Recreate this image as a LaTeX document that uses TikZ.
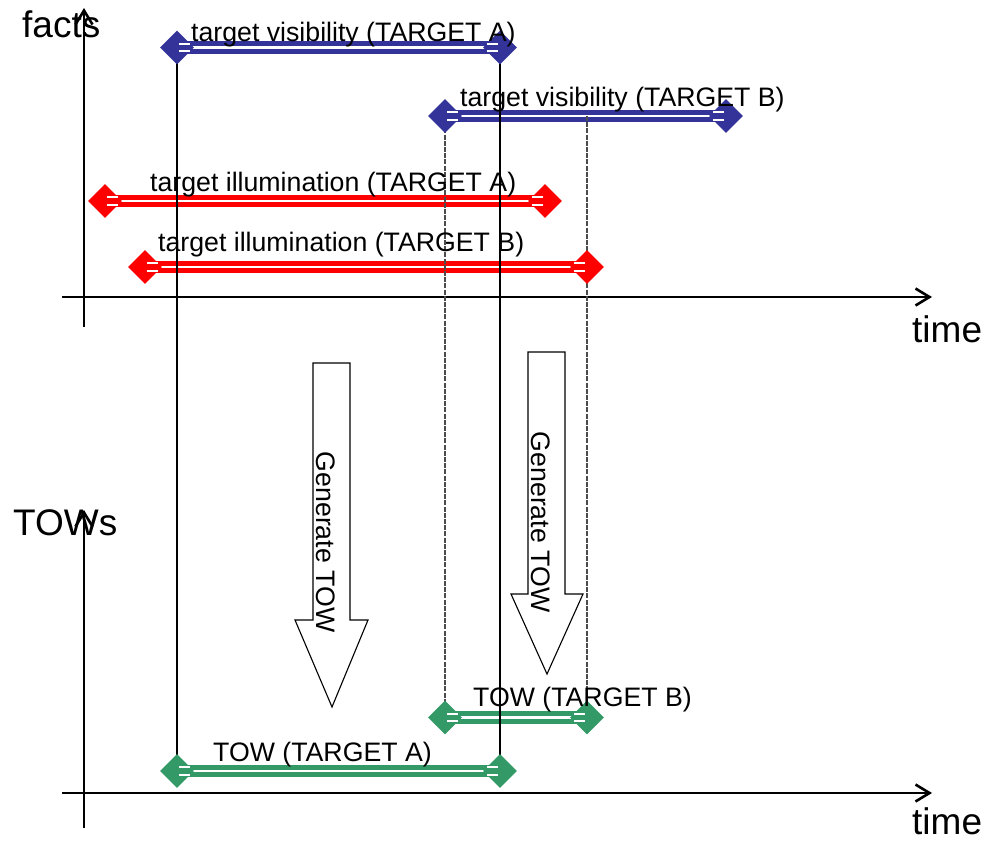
\documentclass[tikz,border=0pt]{standalone}
\usepackage{fontspec}
\setmainfont{Liberation Sans}
\usetikzlibrary{shapes.geometric,arrows.meta}
\definecolor{visblue}{RGB}{51,51,153}
\definecolor{illred}{RGB}{255,0,0}
\definecolor{towgreen}{RGB}{51,153,102}
\begin{document}
\begin{tikzpicture}[x=1pt,y=-1pt,
  endmark/.style={diamond, aspect=1, minimum width=34pt, minimum height=34pt, inner sep=0pt, draw=none},
  bar/.style={line width=5pt, double=white, double distance=2.6pt},
  eqmark/.style={white, line width=1.8pt},
  lbl/.style={anchor=base west, inner sep=0pt, font=\fontsize{26.7}{30}\selectfont},
  biglbl/.style={anchor=base west, inner sep=0pt, font=\fontsize{37}{40}\selectfont},
  axisline/.style={line width=2.8pt, -{Straight Barb[length=14pt,width=17pt,line width=2.6pt]}},
  guide/.style={line width=1.2pt},
  guidedash/.style={line width=1.2pt, black!70, dash pattern=on 5pt off 1.2pt},
  blockarrow/.style={draw=black, fill=white, line width=1.1pt},
  rotlbl/.style={rotate=-90, inner sep=0pt, font=\fontsize{26.7}{30}\selectfont}]
\useasboundingbox (0,0) rectangle (985,841);
% axes
\coordinate (fy0) at (84,327); \coordinate (fy1) at (84,8);
\coordinate (fx0) at (62,297); \coordinate (fx1) at (932,297);
\coordinate (ty0) at (84,828); \coordinate (ty1) at (84,510);
\coordinate (tx0) at (62,793); \coordinate (tx1) at (932,793);
\draw[axisline] (fy0) -- (fy1);
\draw[axisline] (fx0) -- (fx1);
\draw[axisline] (ty0) -- (ty1);
\draw[axisline] (tx0) -- (tx1);
\node[biglbl] (facts) at (22,37) {facts};
\node[biglbl] (time1) at (912,342) {time};
\node[biglbl] (tows) at (13,535) {TOWs};
\node[biglbl] (time2) at (912,834) {time};
% end points of intervals
\coordinate (va1) at (177,47.5);  \coordinate (va2) at (500,47.5);
\coordinate (vb1) at (445,116);   \coordinate (vb2) at (726,116);
\coordinate (vbx) at (587,116);
\coordinate (ra1) at (105,201);   \coordinate (ra2) at (545,201);
\coordinate (rb1) at (145,267);   \coordinate (rb2) at (587,267);
\coordinate (tb1) at (445,717.5); \coordinate (tb2) at (587,717.5);
\coordinate (ta1) at (177,771);   \coordinate (ta2) at (500,771);
% block arrows
\draw[blockarrow] (313,363) -- (350,363) -- (350,620) -- (368,620) -- (332,707) -- (295,620) -- (313,620) -- cycle;
\node[rotlbl] (gen1) at (326,542) {Generate TOW};
\draw[blockarrow] (528,352) -- (565,352) -- (565,594) -- (583,594) -- (547,674) -- (511,594) -- (528,594) -- cycle;
\node[rotlbl] (gen2) at (541,522) {Generate TOW};
% bars
\draw[bar, visblue] (va1) -- (va2);
\draw[bar, visblue] (vb1) -- (vb2);
\draw[bar, illred] (ra1) -- (ra2);
\draw[bar, illred] (rb1) -- (rb2);
\draw[bar, towgreen] (tb1) -- (tb2);
\draw[bar, towgreen] (ta1) -- (ta2);
% guide lines
\draw[guide] (va1) -- (ta1);
\draw[guide] (va2) -- (ta2);
\draw[guidedash] (vb1) -- (tb1);
\draw[guidedash] (vbx) -- (tb2);
% diamonds
\foreach \c/\col in {va1/visblue, va2/visblue, vb1/visblue, vb2/visblue,
                     ra1/illred, ra2/illred, rb1/illred, rb2/illred,
                     tb1/towgreen, tb2/towgreen, ta1/towgreen, ta2/towgreen}
  \node[endmark, fill=\col] (d\c) at (\c) {};
\foreach \c/\d in {va1/1, va2/-1, vb1/1, vb2/-1, ra1/1, ra2/-1, rb1/1, rb2/-1, tb1/1, tb2/-1, ta1/1, ta2/-1} {
  \draw[eqmark] ([shift={(2*\d,-3.8)}]\c) -- ++(11*\d,0);
  \draw[eqmark] ([shift={(2*\d,3.8)}]\c) -- ++(11*\d,0);
}
% labels
\node[lbl] (lva) at (191,41) {target visibility (TARGET A)};
\node[lbl] (lvb) at (460,106) {target visibility (TARGET B)};
\node[lbl] (lra) at (150,191) {target illumination (TARGET A)};
\node[lbl] (lrb) at (158,251) {target illumination (TARGET B)};
\node[lbl] (ltb) at (473,706) {TOW (TARGET B)};
\node[lbl] (lta) at (213,761) {TOW (TARGET A)};
\end{tikzpicture}
\end{document}
